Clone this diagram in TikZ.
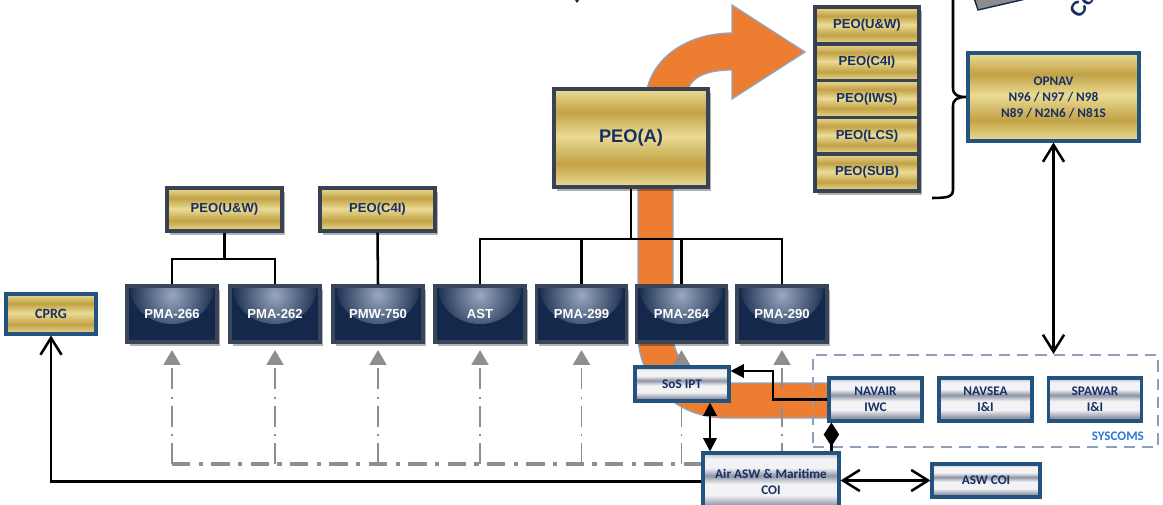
\documentclass[tikz,border=0pt]{standalone}
\usepackage{fontspec}
\setmainfont{Liberation Sans}
\newfontfamily\calibri{Carlito}
\usetikzlibrary{positioning, arrows.meta, shapes, shadows}

\definecolor{goldA}{HTML}{EADB95}
\definecolor{goldB}{HTML}{C2A245}
\definecolor{silA}{HTML}{F3F3F6}
\definecolor{silB}{HTML}{8F94A5}
\definecolor{silM}{HTML}{B5B8C5}
\definecolor{navytext}{HTML}{172F63}
\definecolor{peoedge}{HTML}{394253}
\definecolor{blueedge}{HTML}{23547F}
\definecolor{pmanavy}{HTML}{13284A}
\definecolor{pmahl}{HTML}{9AA8BF}
\definecolor{pmaedge}{HTML}{3A4559}
\definecolor{arroworange}{HTML}{ED7D31}
\definecolor{orangeedge}{HTML}{8FA5C4}
\definecolor{linegray}{HTML}{8E8E8E}
\definecolor{dashblue}{HTML}{8E9FB7}
\definecolor{sysblue}{HTML}{2F76D8}
\definecolor{fraggray}{HTML}{8C8C8C}

\pgfdeclareverticalshading{goldbands}{100bp}{color(0bp)=(goldA); color(25bp)=(goldA); color(37bp)=(goldB); color(51bp)=(goldA); color(63bp)=(goldB); color(75bp)=(goldA); color(100bp)=(goldA)}
\pgfdeclareverticalshading{silverbands}{100bp}{color(0bp)=(silB); color(25bp)=(silM); color(29bp)=(silB); color(38bp)=(silA); color(48bp)=(silA); color(55bp)=(silB); color(62bp)=(silA); color(70bp)=(silA); color(75bp)=(silM); color(100bp)=(silM)}

\begin{document}
\begin{tikzpicture}[x=0.025cm, y=-0.025cm,
    boxsize/.style 2 args={minimum width=#1*0.025cm, minimum height=#2*0.025cm},
    softshadow/.style={drop shadow={opacity=0.3, shadow xshift=2pt, shadow yshift=-3pt, fill=black}},
    openhead/.tip={Straight Barb[length=12pt, width=15pt]},
    solidhead/.tip={Triangle[length=9.5pt, width=9.5pt]},
    grayhead/.tip={Triangle[length=10.5pt, width=12pt]},
    diahead/.tip={Diamond[length=17pt, width=11pt]}]
  \tikzstyle{peo} = [rectangle, draw=peoedge, line width=2.6pt, shading=goldbands, inner sep=0pt,
    text=navytext, font=\bfseries\fontsize{9.3}{11}\selectfont, softshadow]
  \tikzstyle{goldblue} = [rectangle, draw=blueedge, line width=2.2pt, shading=goldbands, inner sep=0pt,
    align=center, text=navytext, font=\calibri\bfseries\fontsize{9.4}{11.4}\selectfont]
  \tikzstyle{pma} = [rectangle, draw=pmaedge, line width=2.2pt, fill=pmanavy, inner sep=0pt,
    boxsize={90}{56}, text=white, font=\bfseries\fontsize{9.3}{11}\selectfont, softshadow,
    path picture={\shade[inner color=pmahl, outer color=pmanavy]
      (path picture bounding box.north) ellipse [x radius=1.05cm, y radius=0.95cm];}]
  \tikzstyle{silver} = [rectangle, draw=blueedge, line width=2.2pt, shading=silverbands, inner sep=0pt,
    align=center, text=navytext, font=\calibri\bfseries\fontsize{9.4}{11.4}\selectfont]
  \tikzstyle{blk} = [draw=black, line width=1.8pt]
  \tikzstyle{graylink} = [draw=linegray, line width=1.3pt, dash pattern=on 15pt off 5pt on 1.5pt off 5pt]

  \useasboundingbox (0,0) rectangle (1163,505);

  % big orange arrow behind the boxes
  \fill[arroworange, draw=orangeedge, line width=0.9pt]
    (805,52) -- (732,99) -- (732,70) .. controls (705,70) and (692,78) .. (688,89)
    -- (673,187) -- (673,335) .. controls (673,362) and (698,383) .. (725,383)
    -- (832,383) -- (832,418) -- (725,418) .. controls (677,418) and (638,381) .. (638,335)
    -- (638,187) -- (647,89) .. controls (655,55) and (690,33) .. (732,33) -- (732,5) -- cycle;

  % cut-off bits at the top edge
  \filldraw[fill=fraggray, draw=pmanavy, line width=1pt] (972,-8) -- (978,10) -- (1030,-2) -- (1030,-8) -- cycle;
  \fill[pmanavy] (573,-3) -- (581,-3) -- (577,3) -- cycle;
  \node[rotate=55, text=navytext, font=\bfseries\fontsize{15}{15}\selectfont] (cofrag) at (1082,4) {Co};

  % programme offices
  \foreach \id/\txt/\x in {pma266/PMA-266/172, pma262/PMA-262/275, pmw750/PMW-750/378, ast/AST/480,
      pma299/PMA-299/581.5, pma264/PMA-264/681.5, pma290/PMA-290/782}
    \coordinate (\id pos) at (\x,314);

  % dash-dot feeds from the COI
  \coordinate (grayrow) at (0,464);
  \draw[draw=linegray, line width=2.8pt, dash pattern=on 13pt off 6pt on 3pt off 6pt]
    (pma266pos |- grayrow) -- (pma290pos |- grayrow);
  \foreach \id in {pma266, pma262, pmw750, ast, pma299, pma264, pma290}
    \draw[graylink, -grayhead, shorten >=5pt] (\id pos |- grayrow) -- (\id pos |- 0,343);

  \foreach \id/\txt/\x in {pma266/PMA-266/172, pma262/PMA-262/275, pmw750/PMW-750/378, ast/AST/480,
      pma299/PMA-299/581.5, pma264/PMA-264/681.5, pma290/PMA-290/782}
    \node[pma] (\id) at (\x,314) {\txt};

  \node[peo, boxsize={154}{98}, font=\bfseries\fontsize{13}{15}\selectfont] (peoA) at (631,138) {PEO(A)};
  \node[peo, boxsize={115}{43}] (peouw) at (224.5,209.5) {PEO(U\&W)};
  \node[peo, boxsize={115}{43}] (peoc4i) at (377.5,209.5) {PEO(C4I)};

  \foreach \name [count=\i] in {{U\&W}, C4I, IWS, LCS, SUB}
    \node[peo, boxsize={104}{36.8}] (stack\i) at (867, {36.8*\i-11.4}) {PEO(\name)};

  \node[goldblue, boxsize={171}{88}] (opnav) at (1053.5,97) {OPNAV\\N96 / N97 / N98\\N89 / N2N6 / N81S};
  \node[goldblue, boxsize={90}{40}, font=\calibri\bfseries\fontsize{10}{12}\selectfont] (cprg) at (51,314) {CPRG};

  % SYSCOMS group
  \node[rectangle, draw=dashblue, line width=1.4pt, dash pattern=on 8pt off 5pt, boxsize={345}{92}] (syscoms) at (985.5,401) {};
  \node[inner sep=0pt, text=sysblue, font=\calibri\bfseries\fontsize{9.3}{11}\selectfont,
    above left=0.17cm and 0.37cm of syscoms.south east] (syslabel) {SYSCOMS};
  \node[silver, boxsize={93}{43}] (navair) at (875.5,399.5) {NAVAIR\\IWC};
  \node[silver, boxsize={93}{43}] (navsea) at (985.5,399.5) {NAVSEA\\I\&I};
  \node[silver, boxsize={93}{43}] (spawar) at (1095,399.5) {SPAWAR\\I\&I};

  \node[silver, boxsize={94}{34}] (sos) at (682,384) {SoS IPT};
  \node[silver, boxsize={136}{57}] (airasw) at (771,481.5) {Air ASW \& Maritime\\COI};
  \node[silver, boxsize={108}{33}] (aswcoi) at (986,480.5) {ASW COI};

  % reporting lines
  \coordinate (uwjoin) at ([yshift=-0.65cm]peouw.south);
  \draw[blk] (peouw.south) -- (uwjoin);
  \draw[blk] (pma266.north) |- (uwjoin) -| (pma262.north);
  \draw[blk] (peoc4i.south) -- (pmw750.north);
  \coordinate (ajoin) at ([yshift=-1.25cm]peoA.south);
  \draw[blk] (peoA.south) -- (ajoin);
  \draw[blk] (ast.north) |- (ajoin) -| (pma290.north);
  \draw[blk] (pma299.north) -- (pma299.north |- ajoin);
  \draw[blk] (pma264.north) -- (pma264.north |- ajoin);

  % brace round the PEO stack
  \draw[line width=1.8pt] (953,-10) -- (953,88) .. controls (953,95) and (958,97) .. (966,97)
    .. controls (958,97) and (953,99) .. (953,106) -- (953,190) .. controls (953,196) and (950,198) .. (932,198);

  % links
  \draw[blk, openhead-] (cprg.south) |- (airasw.west);
  \draw[blk, openhead-openhead] (opnav.south) -- (opnav.south |- syscoms.north);
  \coordinate (jog) at (773,371);
  \draw[blk, -solidhead] (navair.west) -| (jog) -- (sos.east |- jog);
  \draw[blk, solidhead-solidhead] ([xshift=0.7cm]sos.south) -- ([xshift=0.7cm]sos.south |- airasw.north);
  \draw[blk, diahead-] ([xshift=0.1cm]navair.south west) -- ([xshift=0.1cm]navair.south west |- airasw.north);
  \draw[blk, openhead-openhead] (airasw.east |- aswcoi.west) -- (aswcoi.west);
\end{tikzpicture}
\end{document}
